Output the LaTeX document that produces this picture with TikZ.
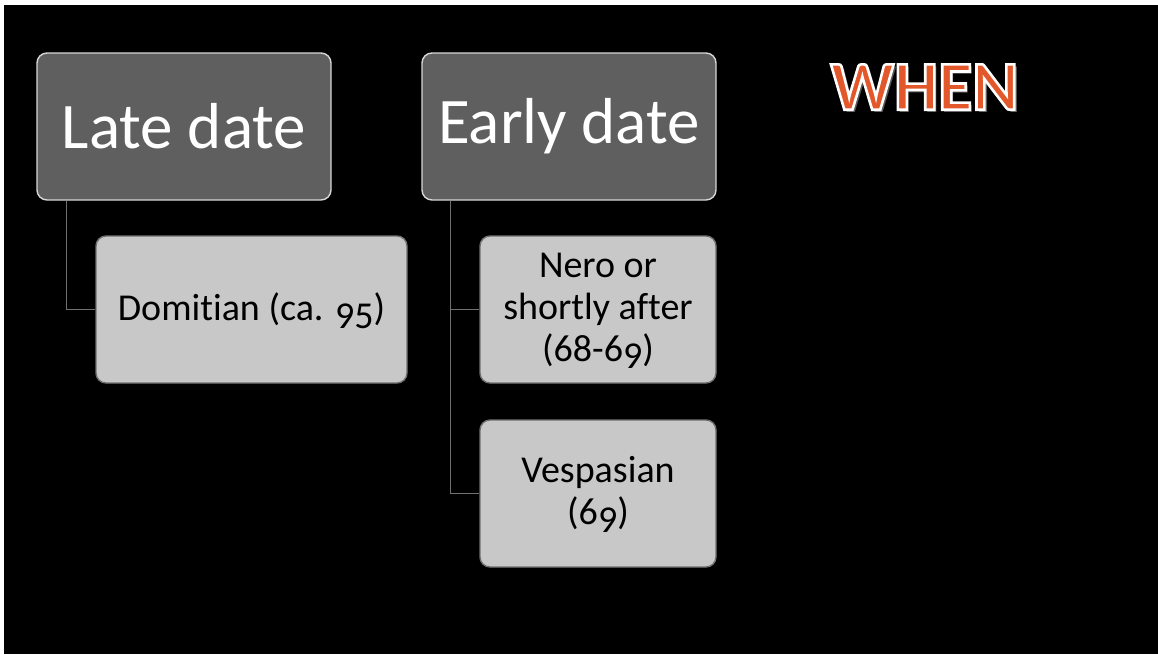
\documentclass[tikz,border=0pt]{standalone}
\usepackage{fontspec}
\setmainfont{Carlito}[Ligatures=NoCommon]
\newcommand\lowd[1]{\raisebox{-0.2em}[0.45em][0pt]{#1}}
\usetikzlibrary{positioning}
\definecolor{darkbox}{RGB}{95,95,95}
\definecolor{darkedge}{RGB}{215,215,215}
\definecolor{lightbox}{RGB}{200,200,200}
\definecolor{lightedge}{RGB}{112,112,112}
\definecolor{linkgray}{RGB}{112,112,112}
\definecolor{whenorange}{RGB}{226,88,42}
\definecolor{whenshadow}{RGB}{90,90,90}
\tikzset{
  parentbox/.style={draw=darkedge, fill=darkbox, line width=1.4pt, rounded corners=10pt,
    minimum height=147pt, inner sep=0pt, text=white, font=\fontsize{65}{70}\selectfont},
  childbox/.style={draw=lightedge, fill=lightbox, line width=1.4pt, rounded corners=10pt,
    minimum height=147pt, inner sep=0pt, text=black, align=center,
    font=\fontsize{38}{42}\selectfont},
  link/.style={draw=linkgray, line width=1.3pt},
  whenfont/.style={font=\fontsize{70}{74}\selectfont\bfseries, inner sep=0pt}
}
\newcommand\outlined[1]{\special{pdf:literal direct 2 Tr 2.6 w 1 1 1 RG}#1\special{pdf:literal direct 0 Tr}}
\begin{document}
\begin{tikzpicture}[x=1pt,y=-1pt]
\useasboundingbox (0,0) rectangle (1158,654);
\fill[white] (0,0) rectangle (1158,654);
\fill[black] (4,5) rectangle (1158,654);

\node[parentbox, minimum width=294pt] (late) at (184,126.5) {Late date};
\node[parentbox, minimum width=294pt] (early) at (569,126.5) {Early date};

\node[childbox, minimum width=311pt] (dom) at (251.5,309.5) {Domitian (ca. \lowd{9}\lowd{5})};
\node[childbox, minimum width=236pt] (nero) at (598,309.5) {Nero or\\shortly after\\(68-6\lowd{9})};
\node[childbox, minimum width=236pt] (vesp) at (598,493.5) {Vespasian\\(6\lowd{9})};

\draw[link] ([xshift=30pt]late.south west) |- (dom.west);
\draw[link] ([xshift=29pt]early.south west) |- (nero.west);
\draw[link] ([xshift=29pt]early.south west) |- (vesp.west);

% WHEN title with shadow, white outline and orange fill
\coordinate (wpos) at (924.5,87);
\node[whenfont, text=whenshadow] (whenshade) at ([xshift=2.8pt,yshift=-2.8pt]wpos) {WHEN};
\node[whenfont, text=whenorange] (when) at (wpos) {\outlined{WHEN}};
\end{tikzpicture}
\end{document}
